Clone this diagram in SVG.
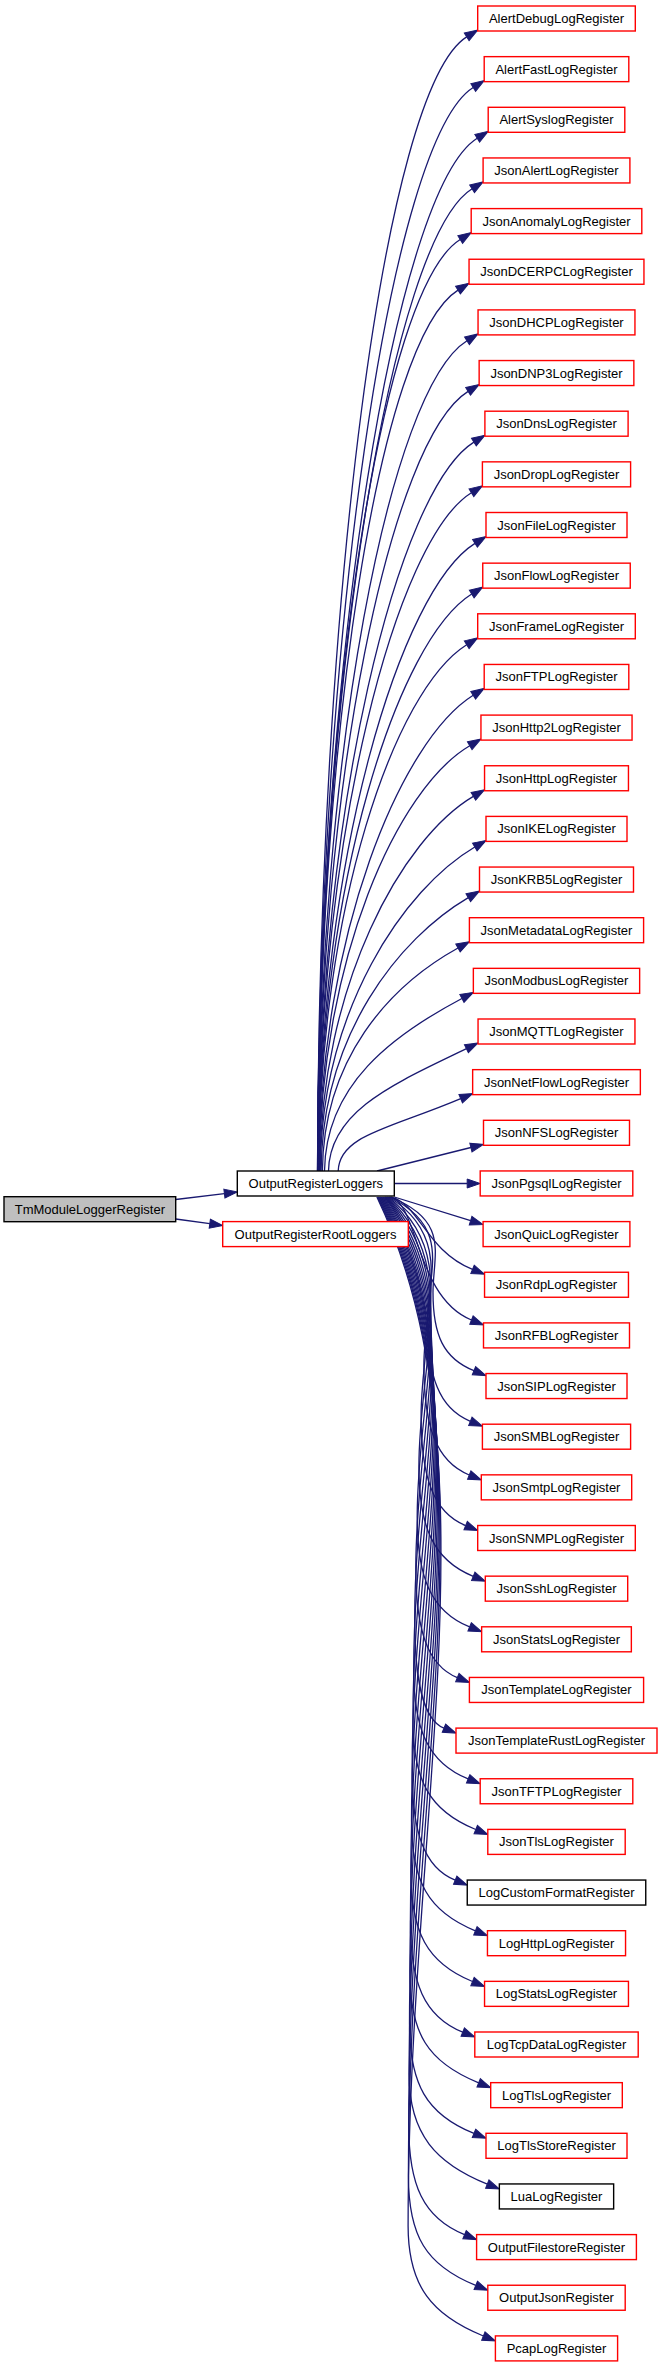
<svg xmlns="http://www.w3.org/2000/svg" width="663" height="2368" viewBox="0 0 663 2368">
<style>
.e{fill:none;stroke:#191970;stroke-width:1.3;marker-end:url(#ah)}
.r{fill:#fff;stroke:#ff0000;stroke-width:1.4}
.k{fill:#fff;stroke:#000;stroke-width:1.4}
text{font-family:"Liberation Sans",Arial,Helvetica,sans-serif;font-size:13px;text-anchor:middle;fill:#000}
</style>
<defs>
<marker id="ah" viewBox="0 0 14 10" refX="0" refY="5" markerWidth="14" markerHeight="10" orient="auto" markerUnits="userSpaceOnUse" overflow="visible">
<path d="M0,0.5 L13,5 L0,9.5 Z" fill="#191970" stroke="#191970" stroke-width="1"/>
</marker>
</defs>
<rect width="663" height="2368" fill="#fff"/>
<g id="connectors">
<path class="e" d="M175.7,1199.5 L224.4,1193.6"/>
<path class="e" d="M175.7,1219 L209.8,1223.7"/>
<path class="e" d="M317.5,1171 C318.5,604 383.9,88.7 466.7,36.9"/>
<path class="e" d="M317.5,1171 C318.5,629.3 391.2,138.7 473.2,87.5"/>
<path class="e" d="M317.6,1171 C318.6,654.6 396,188.9 477.2,138.2"/>
<path class="e" d="M317.7,1171 C318.7,679.9 391.9,238.9 472.1,188.8"/>
<path class="e" d="M317.7,1171 C318.7,705.3 380.8,289.1 460.2,239.5"/>
<path class="e" d="M317.8,1171 C318.8,730.6 379.5,339.2 458,290.1"/>
<path class="e" d="M317.9,1171 C318.9,756 389.3,389.3 467,340.8"/>
<path class="e" d="M318,1171 C319,781.2 391.3,439.4 468.1,391.4"/>
<path class="e" d="M318.1,1171 C319.1,806.6 397.9,489.6 473.9,442.1"/>
<path class="e" d="M318.2,1171 C319.2,831.9 396.3,539.7 471.4,492.7"/>
<path class="e" d="M318.3,1171 C319.3,857.2 400.7,589.8 475,543.4"/>
<path class="e" d="M318.4,1171 C319.4,882.5 398.3,639.8 471.7,594"/>
<path class="e" d="M318.6,1171 C319.6,907.9 394.2,690 466.7,644.7"/>
<path class="e" d="M318.9,1171 C319.9,933.2 401.5,740.1 473.2,695.3"/>
<path class="e" d="M319.2,1171 C320.2,958.4 397.75,788.1 469.75,745.7"/>
<path class="e" d="M319.7,1171 C320.7,983.7 402.25,838.25 473.35,796.35"/>
<path class="e" d="M320.2,1171 C321.2,1009 404.5,888.4 474.8,847"/>
<path class="e" d="M321.1,1171 C322.1,1034.3 398.9,938.55 468.3,897.65"/>
<path class="e" d="M322.4,1171 C323.4,1059.5 388.4,986.6 458,948"/>
<path class="e" d="M324.5,1171 C325.5,1084.7 392.6,1035.25 461.9,998.45"/>
<path class="e" d="M328.5,1171 C329.5,1109.9 396.8,1082.6 466.4,1048.7"/>
<path class="e" d="M338.2,1171 C339.2,1134.9 390.3,1128.6 460.7,1098.7"/>
<path class="e" d="M377,1171 L470.9,1147.5"/>
<path class="e" d="M394.3,1183.5 L467.2,1183.5"/>
<path class="e" d="M394.3,1197 L470.6,1220.6"/>
<path class="e" d="M391.6,1197 C419.6,1205 426.1,1250.6 472.5,1269.4"/>
<path class="e" d="M390.9,1197 C418.4,1205 415.85,1297.5 471.45,1320"/>
<path class="e" d="M390.2,1197 C450.4,1220.9 433,1254.3 433,1292.5 C433,1335.5 443.55,1358.4 473.95,1370.7"/>
<path class="e" d="M389.5,1197 C453,1227.9 427.6,1271 427.6,1320.4 C427.6,1375.9 438.65,1408.5 470.35,1421.3"/>
<path class="e" d="M388.8,1197 C455.6,1238.25 423.9,1299 423.9,1365 C423.9,1425.5 435.6,1461.4 469.25,1475"/>
<path class="e" d="M388.1,1197 C458.2,1250.9 421.1,1329.4 421.1,1415.6 C421.1,1476.1 432.65,1512.25 465.65,1525.6"/>
<path class="e" d="M387.4,1197 C460.8,1263.6 418.9,1359.8 418.9,1466.3 C418.9,1526.8 432.95,1560 473.25,1576.3"/>
<path class="e" d="M386.7,1197 C463.4,1276.2 417.2,1390.1 417.2,1516.9 C417.2,1577.4 430.75,1611.2 469.6,1626.9"/>
<path class="e" d="M386,1197 C466,1288.9 415.8,1420.6 415.8,1567.6 C415.8,1628.1 426.55,1665.1 457.35,1677.6"/>
<path class="e" d="M385.3,1197 C468.6,1301.6 414.7,1450.9 414.7,1618.2 C414.7,1678.7 422.25,1719.4 443.95,1728.2"/>
<path class="e" d="M384.6,1197 C471.2,1314.2 413.7,1481.3 413.7,1668.9 C413.7,1729.4 427.75,1762.55 468.15,1778.9"/>
<path class="e" d="M383.9,1197 C473.8,1326.9 412.9,1511.7 412.9,1719.5 C412.9,1780 429.15,1810.6 475.75,1829.5"/>
<path class="e" d="M383.2,1197 C476.4,1339.6 412.1,1542.1 412.1,1770.2 C412.1,1830.7 423.2,1867.3 455.2,1880.2"/>
<path class="e" d="M382.5,1197 C479,1352.2 411.5,1572.5 411.5,1820.8 C411.5,1881.3 428,1911.6 475.4,1930.8"/>
<path class="e" d="M381.8,1197 C481.6,1364.9 410.9,1602.9 410.9,1871.5 C410.9,1932 426.8,1963 472.5,1981.5"/>
<path class="e" d="M381.1,1197 C484.2,1377.5 410.4,1633.3 410.4,1922.1 C410.4,1982.6 423.95,2016.4 462.75,2032.1"/>
<path class="e" d="M380.4,1197 C486.8,1390.2 409.9,1663.7 409.9,1972.8 C409.9,2033.3 427.65,2062.2 478.65,2082.8"/>
<path class="e" d="M379.7,1197 C489.4,1402.9 409.5,1694 409.5,2023.4 C409.5,2083.9 426.15,2114.05 473.95,2133.4"/>
<path class="e" d="M379,1197 C492,1415.5 409.1,1724.5 409.1,2074.1 C409.1,2134.6 436.3,2163.5 487.3,2184.1"/>
<path class="e" d="M378.3,1197 C494.6,1428.2 408.7,1754.8 408.7,2124.7 C408.7,2185.2 423.15,2217.9 464.55,2234.7"/>
<path class="e" d="M377.6,1197 C497.2,1440.9 408.4,1785.2 408.4,2175.4 C408.4,2235.9 425.75,2265.2 475.75,2285.4"/>
<path class="e" d="M376.9,1197 C499.8,1453.5 408.1,1815.6 408.1,2226 C408.1,2286.5 432.35,2315.4 483.35,2336"/>
</g>
<g id="TmModuleLoggerRegister"><rect x="4" y="1196.7" width="171.7" height="25" fill="#bfbfbf" stroke="#000" stroke-width="1.4"/><text x="89.85" y="1213.7">TmModuleLoggerRegister</text></g>
<g id="OutputRegisterLoggers"><rect class="k" x="237.3" y="1171" width="157" height="25"/><text x="315.8" y="1188">OutputRegisterLoggers</text></g>
<g id="OutputRegisterRootLoggers"><rect class="r" x="222.7" y="1221.6" width="185.6" height="25"/><text x="315.5" y="1238.6">OutputRegisterRootLoggers</text></g>
<g id="AlertDebugLogRegister" transform="translate(0,6)"><rect class="r" x="477.7" y="0" width="157.6" height="25"/><text x="556.5" y="17">AlertDebugLogRegister</text></g>
<g id="AlertFastLogRegister" transform="translate(0,56.65)"><rect class="r" x="484.2" y="0" width="144.6" height="25"/><text x="556.5" y="17">AlertFastLogRegister</text></g>
<g id="AlertSyslogRegister" transform="translate(0,107.3)"><rect class="r" x="488.2" y="0" width="136.6" height="25"/><text x="556.5" y="17">AlertSyslogRegister</text></g>
<g id="JsonAlertLogRegister" transform="translate(0,157.95)"><rect class="r" x="483.1" y="0" width="146.8" height="25"/><text x="556.5" y="17">JsonAlertLogRegister</text></g>
<g id="JsonAnomalyLogRegister" transform="translate(0,208.6)"><rect class="r" x="471.2" y="0" width="170.6" height="25"/><text x="556.5" y="17">JsonAnomalyLogRegister</text></g>
<g id="JsonDCERPCLogRegister" transform="translate(0,259.25)"><rect class="r" x="469.05" y="0" width="174.9" height="25"/><text x="556.5" y="17">JsonDCERPCLogRegister</text></g>
<g id="JsonDHCPLogRegister" transform="translate(0,309.9)"><rect class="r" x="478.05" y="0" width="156.9" height="25"/><text x="556.5" y="17">JsonDHCPLogRegister</text></g>
<g id="JsonDNP3LogRegister" transform="translate(0,360.55)"><rect class="r" x="479.15" y="0" width="154.7" height="25"/><text x="556.5" y="17">JsonDNP3LogRegister</text></g>
<g id="JsonDnsLogRegister" transform="translate(0,411.2)"><rect class="r" x="484.9" y="0" width="143.2" height="25"/><text x="556.5" y="17">JsonDnsLogRegister</text></g>
<g id="JsonDropLogRegister" transform="translate(0,461.85)"><rect class="r" x="482.4" y="0" width="148.2" height="25"/><text x="556.5" y="17">JsonDropLogRegister</text></g>
<g id="JsonFileLogRegister" transform="translate(0,512.5)"><rect class="r" x="486" y="0" width="141" height="25"/><text x="556.5" y="17">JsonFileLogRegister</text></g>
<g id="JsonFlowLogRegister" transform="translate(0,563.15)"><rect class="r" x="482.75" y="0" width="147.5" height="25"/><text x="556.5" y="17">JsonFlowLogRegister</text></g>
<g id="JsonFrameLogRegister" transform="translate(0,613.8)"><rect class="r" x="477.7" y="0" width="157.6" height="25"/><text x="556.5" y="17">JsonFrameLogRegister</text></g>
<g id="JsonFTPLogRegister" transform="translate(0,664.45)"><rect class="r" x="484.2" y="0" width="144.6" height="25"/><text x="556.5" y="17">JsonFTPLogRegister</text></g>
<g id="JsonHttp2LogRegister" transform="translate(0,715.1)"><rect class="r" x="480.95" y="0" width="151.1" height="25"/><text x="556.5" y="17">JsonHttp2LogRegister</text></g>
<g id="JsonHttpLogRegister" transform="translate(0,765.75)"><rect class="r" x="484.55" y="0" width="143.9" height="25"/><text x="556.5" y="17">JsonHttpLogRegister</text></g>
<g id="JsonIKELogRegister" transform="translate(0,816.4)"><rect class="r" x="486" y="0" width="141" height="25"/><text x="556.5" y="17">JsonIKELogRegister</text></g>
<g id="JsonKRB5LogRegister" transform="translate(0,867.05)"><rect class="r" x="479.5" y="0" width="154" height="25"/><text x="556.5" y="17">JsonKRB5LogRegister</text></g>
<g id="JsonMetadataLogRegister" transform="translate(0,917.7)"><rect class="r" x="469.4" y="0" width="174.2" height="25"/><text x="556.5" y="17">JsonMetadataLogRegister</text></g>
<g id="JsonModbusLogRegister" transform="translate(0,968.35)"><rect class="r" x="473.35" y="0" width="166.3" height="25"/><text x="556.5" y="17">JsonModbusLogRegister</text></g>
<g id="JsonMQTTLogRegister" transform="translate(0,1019)"><rect class="r" x="478.05" y="0" width="156.9" height="25"/><text x="556.5" y="17">JsonMQTTLogRegister</text></g>
<g id="JsonNetFlowLogRegister" transform="translate(0,1069.65)"><rect class="r" x="472.65" y="0" width="167.7" height="25"/><text x="556.5" y="17">JsonNetFlowLogRegister</text></g>
<g id="JsonNFSLogRegister" transform="translate(0,1120.3)"><rect class="r" x="483.5" y="0" width="146" height="25"/><text x="556.5" y="17">JsonNFSLogRegister</text></g>
<g id="JsonPgsqlLogRegister" transform="translate(0,1170.95)"><rect class="r" x="480.2" y="0" width="152.6" height="25"/><text x="556.5" y="17">JsonPgsqlLogRegister</text></g>
<g id="JsonQuicLogRegister" transform="translate(0,1221.6)"><rect class="r" x="483.1" y="0" width="146.8" height="25"/><text x="556.5" y="17">JsonQuicLogRegister</text></g>
<g id="JsonRdpLogRegister" transform="translate(0,1272.25)"><rect class="r" x="484.55" y="0" width="143.9" height="25"/><text x="556.5" y="17">JsonRdpLogRegister</text></g>
<g id="JsonRFBLogRegister" transform="translate(0,1322.9)"><rect class="r" x="483.5" y="0" width="146" height="25"/><text x="556.5" y="17">JsonRFBLogRegister</text></g>
<g id="JsonSIPLogRegister" transform="translate(0,1373.55)"><rect class="r" x="486" y="0" width="141" height="25"/><text x="556.5" y="17">JsonSIPLogRegister</text></g>
<g id="JsonSMBLogRegister" transform="translate(0,1424.2)"><rect class="r" x="482.4" y="0" width="148.2" height="25"/><text x="556.5" y="17">JsonSMBLogRegister</text></g>
<g id="JsonSmtpLogRegister" transform="translate(0,1474.85)"><rect class="r" x="481.3" y="0" width="150.4" height="25"/><text x="556.5" y="17">JsonSmtpLogRegister</text></g>
<g id="JsonSNMPLogRegister" transform="translate(0,1525.5)"><rect class="r" x="477.7" y="0" width="157.6" height="25"/><text x="556.5" y="17">JsonSNMPLogRegister</text></g>
<g id="JsonSshLogRegister" transform="translate(0,1576.15)"><rect class="r" x="485.3" y="0" width="142.4" height="25"/><text x="556.5" y="17">JsonSshLogRegister</text></g>
<g id="JsonStatsLogRegister" transform="translate(0,1626.8)"><rect class="r" x="481.65" y="0" width="149.7" height="25"/><text x="556.5" y="17">JsonStatsLogRegister</text></g>
<g id="JsonTemplateLogRegister" transform="translate(0,1677.45)"><rect class="r" x="469.4" y="0" width="174.2" height="25"/><text x="556.5" y="17">JsonTemplateLogRegister</text></g>
<g id="JsonTemplateRustLogRegister" transform="translate(0,1728.1)"><rect class="r" x="456" y="0" width="201" height="25"/><text x="556.5" y="17">JsonTemplateRustLogRegister</text></g>
<g id="JsonTFTPLogRegister" transform="translate(0,1778.75)"><rect class="r" x="480.2" y="0" width="152.6" height="25"/><text x="556.5" y="17">JsonTFTPLogRegister</text></g>
<g id="JsonTlsLogRegister" transform="translate(0,1829.4)"><rect class="r" x="487.8" y="0" width="137.4" height="25"/><text x="556.5" y="17">JsonTlsLogRegister</text></g>
<g id="LogCustomFormatRegister" transform="translate(0,1880.05)"><rect class="k" x="467.25" y="0" width="178.5" height="25"/><text x="556.5" y="17">LogCustomFormatRegister</text></g>
<g id="LogHttpLogRegister" transform="translate(0,1930.7)"><rect class="r" x="487.45" y="0" width="138.1" height="25"/><text x="556.5" y="17">LogHttpLogRegister</text></g>
<g id="LogStatsLogRegister" transform="translate(0,1981.35)"><rect class="r" x="484.55" y="0" width="143.9" height="25"/><text x="556.5" y="17">LogStatsLogRegister</text></g>
<g id="LogTcpDataLogRegister" transform="translate(0,2032)"><rect class="r" x="474.8" y="0" width="163.4" height="25"/><text x="556.5" y="17">LogTcpDataLogRegister</text></g>
<g id="LogTlsLogRegister" transform="translate(0,2082.65)"><rect class="r" x="490.7" y="0" width="131.6" height="25"/><text x="556.5" y="17">LogTlsLogRegister</text></g>
<g id="LogTlsStoreRegister" transform="translate(0,2133.3)"><rect class="r" x="486" y="0" width="141" height="25"/><text x="556.5" y="17">LogTlsStoreRegister</text></g>
<g id="LuaLogRegister" transform="translate(0,2183.95)"><rect class="k" x="499.35" y="0" width="114.3" height="25"/><text x="556.5" y="17">LuaLogRegister</text></g>
<g id="OutputFilestoreRegister" transform="translate(0,2234.6)"><rect class="r" x="476.6" y="0" width="159.8" height="25"/><text x="556.5" y="17">OutputFilestoreRegister</text></g>
<g id="OutputJsonRegister" transform="translate(0,2285.25)"><rect class="r" x="487.8" y="0" width="137.4" height="25"/><text x="556.5" y="17">OutputJsonRegister</text></g>
<g id="PcapLogRegister" transform="translate(0,2335.9)"><rect class="r" x="495.4" y="0" width="122.2" height="25"/><text x="556.5" y="17">PcapLogRegister</text></g>
</svg>
